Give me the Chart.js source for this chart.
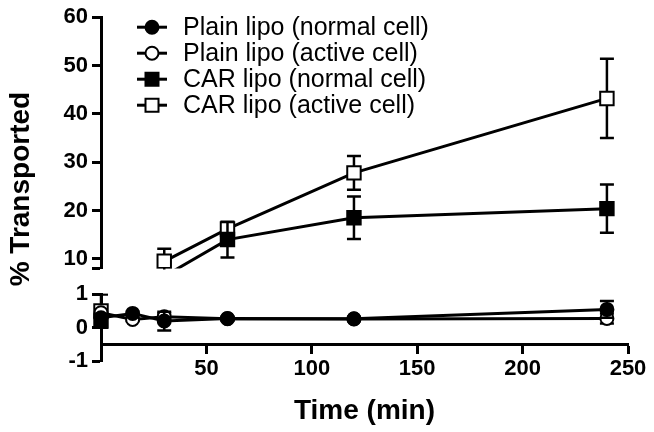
<!DOCTYPE html>
<html>
<head>
<meta charset="utf-8">
<script src="https://cdn.jsdelivr.net/npm/chart.js@4/dist/chart.umd.min.js"></script>
<style>
  html, body { margin: 0; padding: 0; background: #fff; }
  #wrap { width: 654px; height: 432px; }
</style>
</head>
<body>
<div id="wrap"><canvas id="transportChart" width="654" height="432"></canvas></div>
<script>
const seriesNames = [
    "Plain lipo (normal cell)",
    "Plain lipo (active cell)",
    "CAR lipo (normal cell)",
    "CAR lipo (active cell)",
];
const plainTimes = [0, 15, 30, 60, 120, 240];
const plainNormal = [0.3, 0.43, 0.2, 0.28, 0.27, 0.55];
const plainNormalErr = [0.12, 0.05, 0.28, 0.05, 0.05, 0.25];
const plainActive = [0.45, 0.25, 0.33, 0.27, 0.26, 0.28];
const plainActiveErr = [0.1, 0.05, 0.1, 0.05, 0.05, 0.15];
const carTimes = [0, 30, 60, 120, 240];
const carNormal = [0.2, 6.4, 14.0, 18.5, 20.4];
const carNormalErr = [0.1, 1.0, 3.7, 4.4, 5.0];
const carActive = [0.5, 9.5, 16.2, 27.8, 43.2];
const carActiveErr = [0.5, 2.6, 1.2, 3.5, 8.2];
const xTicks = [50, 100, 150, 200, 250];
const yTopTicks = [10, 20, 30, 40, 50, 60];
const yBottomTicks = [-1, 0, 1];

const series = [
    { times: plainTimes, values: plainNormal, errs: plainNormalErr },
    { times: plainTimes, values: plainActive, errs: plainActiveErr },
    { times: carTimes, values: carNormal, errs: carNormalErr },
    { times: carTimes, values: carActive, errs: carActiveErr },
];
const markers = [
    { style: "circle", fill: "#000", radius: 6.5 },
    { style: "circle", fill: "#fff", radius: 6.5 },
    { style: "rect", fill: "#000", radius: 9.5 },
    { style: "rect", fill: "#fff", radius: 9.5 },
];

// split every series between the lower (-1..1) and upper (8..60) panels
const datasets = [];
series.forEach((s, i) => {
    const low = [];
    const high = [];
    s.values.forEach((v, j) => {
        const pt = { x: s.times[j], y: v, err: s.errs[j] };
        (v < 2 ? low : high).push(pt);
    });
    [[low, "yBottom"], [high, "yTop"]].forEach(([pts, axis]) => {
        if (!pts.length) return;
        datasets.push({
            label: seriesNames[i],
            data: pts,
            yAxisID: axis,
            borderColor: "#000",
            borderWidth: 3,
            pointStyle: markers[i].style,
            pointRadius: markers[i].radius,
            pointBackgroundColor: markers[i].fill,
            pointBorderColor: "#000",
            pointBorderWidth: 2,
            tension: 0,
            clip: axis === "yTop" ? { left: 15, right: 15, top: 15, bottom: 0 } : 15,
        });
    });
});

const errorBars = {
    id: "errorBars",
    beforeDatasetDraw(chart, args) {
        const ds = chart.data.datasets[args.index];
        const yScale = chart.scales[ds.yAxisID];
        const { ctx } = chart;
        ctx.save();
        ctx.beginPath();
        ctx.rect(0, yScale.top - 1, chart.width, yScale.bottom - yScale.top + 2);
        ctx.clip();
        ctx.strokeStyle = "#000";
        ctx.lineWidth = 2.5;
        args.meta.data.forEach((pt, j) => {
            const d = ds.data[j];
            if (!d.err) return;
            const yHi = yScale.getPixelForValue(d.y + d.err);
            const yLo = yScale.getPixelForValue(d.y - d.err);
            ctx.beginPath();
            ctx.moveTo(pt.x, yHi);
            ctx.lineTo(pt.x, yLo);
            ctx.moveTo(pt.x - 7, yHi);
            ctx.lineTo(pt.x + 7, yHi);
            ctx.moveTo(pt.x - 7, yLo);
            ctx.lineTo(pt.x + 7, yLo);
            ctx.stroke();
        });
        ctx.restore();
    },
};

const seriesLegend = {
    id: "seriesLegend",
    afterDraw(chart) {
        const { ctx, chartArea } = chart;
        ctx.save();
        seriesNames.forEach((name, i) => {
            const y = chartArea.top + 10 + i * 26;
            const x0 = chartArea.left + 36;
            ctx.strokeStyle = "#000";
            ctx.lineWidth = 3;
            ctx.beginPath();
            ctx.moveTo(x0, y);
            ctx.lineTo(x0 + 30, y);
            ctx.stroke();
            ctx.fillStyle = markers[i].fill;
            ctx.lineWidth = 2;
            ctx.beginPath();
            if (markers[i].style === "circle") {
                ctx.arc(x0 + 15, y, 6.5, 0, Math.PI * 2);
            } else {
                ctx.rect(x0 + 15 - 6.5, y - 6.5, 13, 13);
            }
            ctx.fill();
            ctx.stroke();
            ctx.fillStyle = "#000";
            ctx.font = "25px 'Liberation Sans', Arial, sans-serif";
            ctx.textBaseline = "middle";
            ctx.fillText(name, chartArea.left + 82, y + 1);
        });
        ctx.restore();
    },
};

const tickFont = { family: "'Liberation Sans', Arial, sans-serif", size: 22, weight: "bold" };
const titleFont = { family: "'Liberation Sans', Arial, sans-serif", size: 28, weight: "bold" };
const axisGrid = {
    display: true,
    drawOnChartArea: false,
    drawTicks: true,
    tickLength: 9,
    tickWidth: 3,
    tickColor: "#000",
};
const axisBorder = { display: true, color: "#000", width: 3 };
const stackWidth = (s) => { s.width = 63; };

new Chart(document.getElementById("transportChart"), {
    type: "line",
    data: { datasets },
    options: {
        responsive: false,
        animation: false,
        devicePixelRatio: 1,
        layout: { padding: { top: 15, right: 26, bottom: 71, left: 0 } },
        plugins: {
            legend: { display: false },
            tooltip: { enabled: false },
        },
        scales: {
            x: {
                type: "linear",
                min: 0,
                max: 250,
                position: { yBottom: -0.5 },
                afterBuildTicks: (s) => { s.ticks = xTicks.map((v) => ({ value: v })); },
                ticks: { font: tickFont, color: "#000", padding: 3, maxRotation: 0, autoSkip: false },
                grid: { ...axisGrid, tickLength: 8 },
                border: axisBorder,
                title: {
                    display: true,
                    text: "Time (min)",
                    font: titleFont,
                    color: "#000",
                    padding: { top: 10, bottom: 0 },
                },
            },
            yTitle: {
                type: "linear",
                position: "left",
                weight: 10,
                afterFit: (s) => { s.width = 38; },
                ticks: { display: false },
                grid: { display: false },
                border: { display: false },
                title: {
                    display: true,
                    text: "% Transported",
                    font: titleFont,
                    color: "#000",
                    padding: { top: 4, bottom: 0 },
                },
            },
            yTop: {
                type: "linear",
                position: "left",
                stack: "pct",
                stackWeight: 253,
                weight: 3,
                min: 8,
                max: 60,
                afterFit: stackWidth,
                afterBuildTicks: (s) => { s.ticks = [8, ...yTopTicks].map((v) => ({ value: v })); },
                ticks: {
                    font: tickFont,
                    color: "#000",
                    padding: 4,
                    autoSkip: false,
                    callback: (v) => (yTopTicks.includes(v) ? v : ""),
                },
                grid: axisGrid,
                border: axisBorder,
            },
            yGap: {
                type: "linear",
                position: "left",
                stack: "pct",
                stackWeight: 26,
                weight: 2,
                min: 0,
                max: 1,
                afterFit: stackWidth,
                ticks: { display: false },
                grid: { display: false },
                border: { display: false },
            },
            yBottom: {
                type: "linear",
                position: "left",
                stack: "pct",
                stackWeight: 67,
                weight: 1,
                min: -1,
                max: 1,
                afterFit: stackWidth,
                afterBuildTicks: (s) => { s.ticks = yBottomTicks.map((v) => ({ value: v })); },
                ticks: { font: tickFont, color: "#000", padding: 4, autoSkip: false },
                grid: axisGrid,
                border: axisBorder,
            },
        },
    },
    plugins: [errorBars, seriesLegend],
});
</script>
</body>
</html>
